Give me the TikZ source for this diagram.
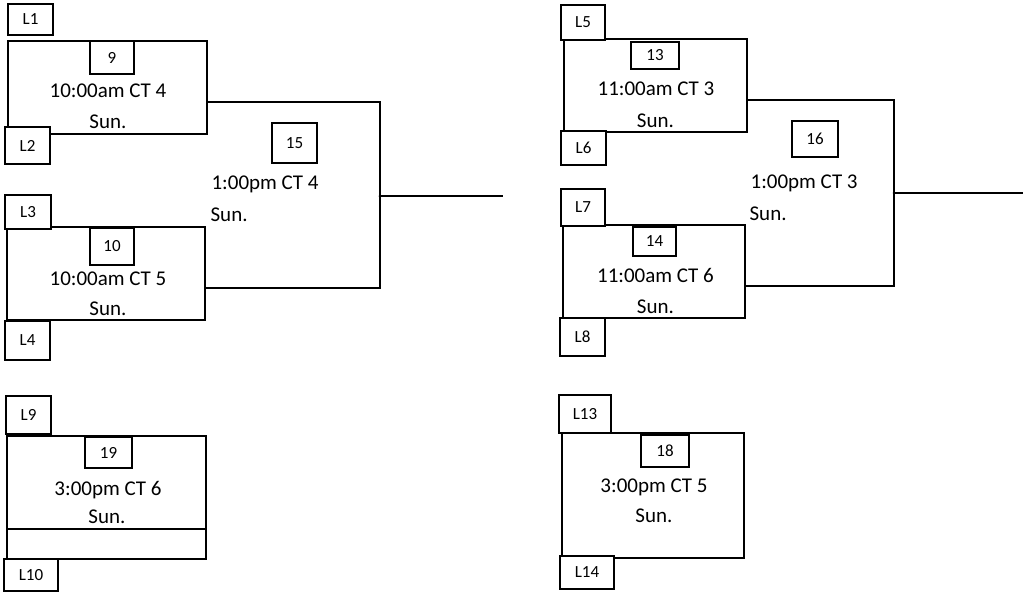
\documentclass[tikz,border=0pt]{standalone}
\usepackage{fontspec}
\setmainfont{Carlito}
\begin{document}
\begin{tikzpicture}[x=1pt, y=-1pt, line width=1.2pt,
	game/.style={draw, line width=1.3pt, inner sep=0pt},
	lbox/.style={draw, fill=white, line width=1.1pt, inner sep=0pt, font=\fontsize{17}{17}\selectfont},
	nbox/.style={draw, fill=white, line width=1.1pt, inner sep=0pt, font=\fontsize{17}{17}\selectfont},
	txt/.style={inner sep=0pt, anchor=base, font=\fontsize{21}{21}\selectfont}]
		\useasboundingbox (0,0) rectangle (1029,592);
		
		%game boxes
		\node (g9) [game, minimum width=199pt, minimum height=93pt] at (107.5, 87.5){};
		\node (g10) [game, minimum width=198pt, minimum height=93pt] at (106, 273.5){};
		\node (g13) [game, minimum width=183pt, minimum height=93pt] at (655.5, 85.5){};
		\node (g14) [game, minimum width=182pt, minimum height=93pt] at (654, 271.5){};
		\node (g19) [game, minimum width=199pt, minimum height=123pt] at (106.5, 497.5){};
		\node (g18) [game, minimum width=182pt, minimum height=125pt] at (653, 495.5){};
		\draw (g19.west |- 0, 529) -- (g19.east |- 0, 529);
		
		%brackets
		\coordinate (j15) at (380, 196);
		\coordinate (o15) at (503, 196);
		\coordinate (j16) at (894, 193);
		\coordinate (o16) at (1023, 193);
		\draw ([yshift=-14.5pt]g9.east) -| (j15) |- ([yshift=-14.5pt]g10.east);
		\draw (j15) -- (o15);
		\fill (j15) circle (1.5pt);
		\draw ([yshift=-14.5pt]g13.east) -| (j16) |- ([yshift=-14.5pt]g14.east);
		\draw (j16) -- (o16);
		\fill (j16) circle (1.5pt);
		
		%losers
		\foreach \n/\x/\y/\w/\h in {1/30.5/19.5/45/31, 2/27.5/145.5/45/37, 3/28/212/46/34, 4/27.5/340.5/45/39,
			5/583/22.5/44/35, 6/583.5/148/45/34, 7/583/207.5/44/37, 8/582.5/337/45/38,
			9/28.5/415/45/38, 10/31/575/54/32, 13/585/414/52/38, 14/587/572.5/54/33}{
			\node (L\n) [lbox, minimum width=\w pt, minimum height=\h pt] at (\x, \y){L\n};
		}
		
		%game numbers
		\node (n9) [nbox, minimum width=44pt, minimum height=33pt] at (112, 57.5){9};
		\node (n10) [nbox, minimum width=44pt, minimum height=37pt] at (112, 246.5){10};
		\node (n15) [nbox, minimum width=45pt, minimum height=40pt] at (294.5, 143){15};
		\node (n13) [nbox, minimum width=48pt, minimum height=27pt] at (655, 55.5){13};
		\node (n14) [nbox, minimum width=43pt, minimum height=29pt] at (654.5, 241.5){14};
		\node (n16) [nbox, minimum width=46pt, minimum height=36pt] at (815, 139){16};
		\node (n19) [nbox, minimum width=47pt, minimum height=31pt] at (108.5, 452.5){19};
		\node (n18) [nbox, minimum width=48pt, minimum height=32pt] at (665, 451){18};
		
		%times
		\node (t9) [txt] at (108, 97){10:00am CT 4};
		\node (s9) [txt] at (108, 128){Sun.};
		\node (t10) [txt] at (108, 285){10:00am CT 5};
		\node (s10) [txt] at (108, 315){Sun.};
		\node (t15) [txt, anchor=base west] at (211, 189){1:00pm CT 4};
		\node (s15) [txt, anchor=base west] at (210, 221){Sun.};
		\node (t13) [txt] at (656, 95){11:00am CT 3};
		\node (s13) [txt] at (655.5, 127){Sun.};
		\node (t14) [txt] at (655.5, 282){11:00am CT 6};
		\node (s14) [txt] at (655.5, 313){Sun.};
		\node (t16) [txt, anchor=base west] at (750, 188){1:00pm CT 3};
		\node (s16) [txt, anchor=base west] at (749, 220){Sun.};
		\node (t19) [txt] at (108, 495){3:00pm CT 6};
		\node (s19) [txt] at (107, 523){Sun.};
		\node (t18) [txt] at (654, 492){3:00pm CT 5};
		\node (s18) [txt] at (654, 522){Sun.};
\end{tikzpicture}
\end{document}
